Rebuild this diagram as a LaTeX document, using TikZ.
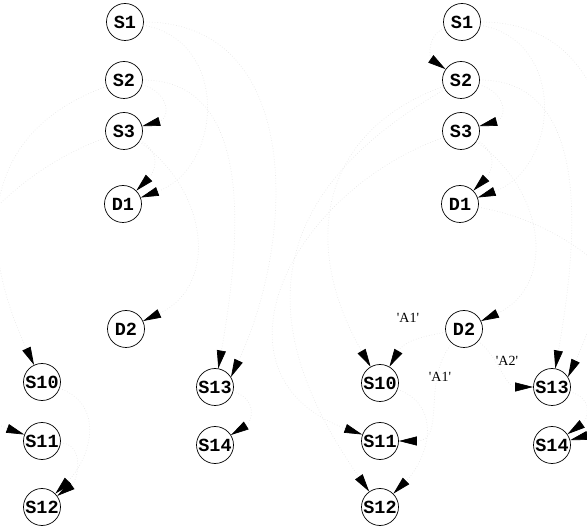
\documentclass[tikz,border=0pt]{standalone}
\usepackage{fontspec}
\setmonofont{Liberation Mono}
\newfontfamily\labelserif{Liberation Serif}
\usetikzlibrary{arrows.meta}
\begin{document}
\begin{tikzpicture}[x=1pt,y=-1pt,
  state/.style={circle,draw,line width=0.7pt,minimum size=37pt,inner sep=0pt,
    font=\ttfamily\bfseries\fontsize{18.5}{18.5}\selectfont},
  link/.style={draw=black!9,dotted,line width=0.7pt,
    -{Triangle[length=18pt,width=9pt,color=black]}},
  tag/.style={font=\labelserif\fontsize{14}{14}\selectfont,inner sep=1pt}]
\useasboundingbox (0,0) rectangle (587,529);

% ---------- left graph ----------
\node[state] (lS1)  at (125,22)  {S1};
\node[state] (lS2)  at (124,80)  {S2};
\node[state] (lS3)  at (124,131) {S3};
\node[state] (lD1)  at (123,204) {D1};
\node[state] (lD2)  at (126,329) {D2};
\node[state] (lS10) at (42,382)  {S10};
\node[state] (lS11) at (42,441)  {S11};
\node[state] (lS12) at (42,507)  {S12};
\node[state] (lS13) at (215,387) {S13};
\node[state] (lS14) at (215,445) {S14};

\path[link] (lS1) to[out=0,in=65,looseness=1.1] (lS13.32);
\path[link] (lS2) to[out=0,in=80,looseness=1.0] (lS13.80);
\path[link] (lS2) to[out=200,in=115,looseness=1.2] (lS10);
\path[link] (lS3) to[out=200,in=160,looseness=1.4] (lS11);
\path[link] (lS2) to[out=-15,in=15,looseness=1.8] (lS3);
\path[link] (lS3) to[out=-30,in=45,looseness=1.3] (lD1);
\path[link] (lS1) to[out=-10,in=20,looseness=1.3] (lD1);
\path[link] (lS3) to[out=-35,in=25,looseness=1.2] (lD2);
\path[link] (lS10) to[out=-20,in=45,looseness=1.2] (lS12);
\path[link] (lS11) to[out=-5,in=36,looseness=1.2] (lS12);
\path[link] (lS13) to[out=-15,in=32,looseness=1.5] (lS14);

% ---------- right graph ----------
\node[state] (rS1)  at (462,22)  {S1};
\node[state] (rS2)  at (461,80)  {S2};
\node[state] (rS3)  at (461,131) {S3};
\node[state] (rD1)  at (460,204) {D1};
\node[state] (rD2)  at (464,329) {D2};
\node[state] (rS10) at (380,383) {S10};
\node[state] (rS11) at (380,441) {S11};
\node[state] (rS12) at (380,507) {S12};
\node[state] (rS13) at (552,387) {S13};
\node[state] (rS14) at (552,445) {S14};

\path[link] (rS1) to[out=0,in=65,looseness=1.1] (rS13.32);
\path[link] (rS2) to[out=0,in=80,looseness=1.0] (rS13.80);
\path[link] (rS1) to[out=200,in=145,looseness=1.2] (rS2);
\path[link] (rS2) to[out=200,in=120,looseness=1.2] (rS10);
\path[link] (rS3) to[out=200,in=160,looseness=1.4] (rS11);
\path[link] (rS2) to[out=210,in=125,looseness=1.3] (rS12);
\path[link] (rS2) to[out=-15,in=15,looseness=1.8] (rS3);
\path[link] (rS3) to[out=-30,in=45,looseness=1.3] (rD1);
\path[link] (rS1) to[out=-10,in=20,looseness=1.3] (rD1);
\path[link] (rS3) to[out=-35,in=25,looseness=1.2] (rD2);
\path[link] (rD2) to[out=190,in=60,looseness=1.1] (rS10);
\path[link] (rD2) to[out=230,in=0,looseness=1.1] (rS11);
\path[link] (rD2) to[out=-40,in=180,looseness=1.0] (rS13);
\path[link] (rS10) to[out=-20,in=45,looseness=1.2] (rS12);
\path[link] (rS13) to[out=-15,in=35,looseness=1.5] (rS14);
\path[link] (rD1) to[out=-10,in=15,looseness=1.6] (rS14);

\node[tag] (a1) at (408,318) {'A1'};
\node[tag] (a2) at (440,377) {'A1'};
\node[tag] (a3) at (507,361) {'A2'};
\end{tikzpicture}
\end{document}
